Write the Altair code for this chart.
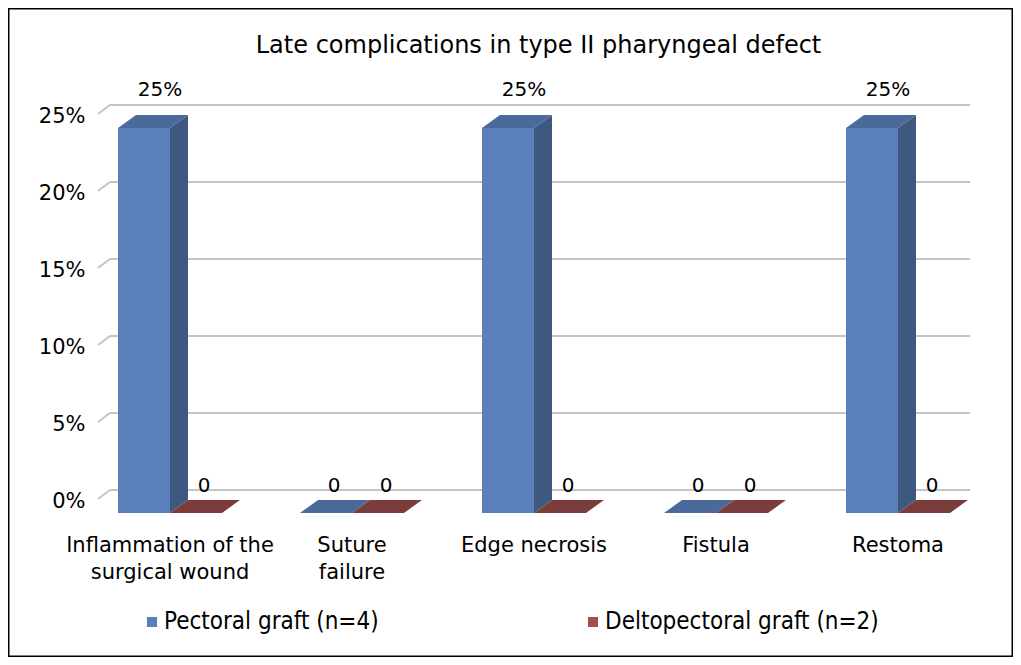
import altair as alt
import pandas as pd

# ---------------- data ----------------
categories = ["Inflammation of the\nsurgical wound", "Suture\nfailure", "Edge necrosis", "Fistula", "Restoma"]
series = ["Pectoral graft (n=4)", "Deltopectoral graft (n=2)"]
pectoral = [25, 0, 25, 0, 25]
deltopectoral = [0, 0, 0, 0, 0]
y_ticks = [0, 5, 10, 15, 20, 25]
title_text = "Late complications in type II pharyngeal defect"

# ---------------- style ----------------
front_colors = ["#5b7fbb", "#a04f4d"]
side_colors = ["#3f5880", "#6f3634"]
top_colors = ["#4b6a9c", "#7b3d3c"]
FONT = "DejaVu Sans"
LEGEND_FONT = "Liberation Sans Narrow, DejaVu Sans Condensed, DejaVu Sans"

W, H = 1005, 649          # whole canvas = plot area
SP = 182.0                # px per category step
PXY = 15.4                # px per percent point
X0 = 162.0                # px of first category center
Y0 = 505.0                # px of 0 % (front plane)
BW = 52.0 / SP            # bar width in category units
DX = 18.0 / SP            # depth shift (x) in category units
DY = 13.0 / PXY           # depth shift (y) in percent units
GRID_BACK = 23.0 / PXY    # back wall shift
GRID_SLANT = 9.0 / PXY
GRID_L0, GRID_L1, GRID_R = -0.396, -0.33, 4.396

xs = alt.Scale(domain=[-X0 / SP, (W - X0) / SP], range=[0, W], nice=False, zero=False)
ys = alt.Scale(domain=[-(H - Y0) / PXY, Y0 / PXY], range=[H, 0], nice=False, zero=False)

# ---------------- tables ----------------
rows, side_rows, top_rows = [], [], []
for s_i, (name, vals) in enumerate(zip(series, [pectoral, deltopectoral])):
    for c_i, v in enumerate(vals):
        left = c_i - BW if s_i == 0 else c_i
        right = left + BW
        bid = f"{s_i}-{c_i}"
        rows.append(dict(bar=bid, series=name, left=left, right=right, mid=(left + right) / 2,
                         base=0.0, value=v, label=("0" if v == 0 else f"{v}%")))
        side_rows += [dict(bar=bid, x=right, top=v, bot=0.0, fill=side_colors[s_i]),
                      dict(bar=bid, x=right + DX, top=v + DY, bot=DY, fill=side_colors[s_i])]
        top_rows += [dict(bar=bid, y=v, x=left, x2=right, fill=top_colors[s_i]),
                     dict(bar=bid, y=v + DY, x=left + DX, x2=right + DX, fill=top_colors[s_i])]
bars = pd.DataFrame(rows)
sides = pd.DataFrame(side_rows)
tops = pd.DataFrame(top_rows)

grid = pd.DataFrame({"v": y_ticks})
grid["yb"] = grid["v"] + GRID_BACK
grid["ys"] = grid["v"] + GRID_BACK - GRID_SLANT
grid["xl0"], grid["xl1"], grid["xr"] = GRID_L0, GRID_L1, GRID_R

cats = pd.DataFrame({"cat": categories, "i": list(range(len(categories))), "base": 0.0})

yaxis = alt.Axis(values=y_ticks, labelExpr="datum.value + '%'", grid=False, ticks=False, tickSize=0,
                 domain=False, offset=-77, labelPadding=0, labelOffset=-12, labelFontSize=21,
                 labelFont=FONT, labelColor="#000000", title=None, labelOverlap=False, zindex=2)


def Y(field):
    return alt.Y(field, scale=ys, axis=yaxis)


def X(field):
    return alt.X(field, scale=xs, axis=None)


# ---------------- layers ----------------
grid_h = alt.Chart(grid).mark_rule(color="#c4c4c4", strokeWidth=2).encode(
    x=X("xl1:Q"), x2="xr:Q", y=Y("yb:Q"), y2="yb:Q")
grid_s = alt.Chart(grid).mark_rule(color="#c4c4c4", strokeWidth=2).encode(
    x=X("xl0:Q"), x2="xl1:Q", y=Y("ys:Q"), y2="yb:Q")

front = alt.Chart(bars).mark_rect().encode(
    x=X("left:Q"), x2="right:Q",
    y=Y("base:Q"), y2="value:Q",
    color=alt.Color("series:N", scale=alt.Scale(domain=series, range=front_colors),
                    legend=alt.Legend(title=None, orient="none", legendX=132, legendY=602,
                                      direction="horizontal", symbolType="square", symbolSize=100,
                                      symbolStrokeWidth=0, labelFontSize=24, labelFont=LEGEND_FONT,
                                      labelColor="#000000", labelLimit=600, labelOffset=0,
                                      columnPadding=202)),
)

side = alt.Chart(sides).mark_area(orient="vertical").encode(
    x=X("x:Q"), y=Y("top:Q"), y2="bot:Q",
    detail="bar:N", fill=alt.Fill("fill:N", scale=None))

top = alt.Chart(tops).mark_area(orient="horizontal").encode(
    y=Y("y:Q"), x=X("x:Q"), x2="x2:Q",
    detail="bar:N", fill=alt.Fill("fill:N", scale=None))

lab_pos = alt.Chart(bars).transform_filter("datum.value > 0").mark_text(
    fontSize=20, font=FONT, color="#000000", dx=16, dy=-38).encode(
    x=X("mid:Q"), y=Y("value:Q"), text="label:N")
lab_zero = alt.Chart(bars).transform_filter("datum.value == 0").mark_text(
    fontSize=20, font=FONT, color="#000000", dx=8, dy=-27).encode(
    x=X("mid:Q"), y=Y("value:Q"), text="label:N")

cat_labels = alt.Chart(cats).mark_text(
    fontSize=21, font=FONT, color="#000000", baseline="top", dy=22, lineBreak="\n", lineHeight=27).encode(
    x=X("i:Q"), y=Y("base:Q"), text="cat:N")

chart = alt.layer(grid_h, grid_s, front, side, top, lab_pos, lab_zero, cat_labels).resolve_scale(
    fill="independent"
).properties(
    width=W, height=H, padding=0, autosize=alt.AutoSizeParams(type="none"),
    title=alt.TitleParams(title_text, anchor="middle", orient="top", frame="group", offset=0,
                          baseline="middle", dx=28, dy=62, fontSize=24, font=FONT,
                          fontWeight="normal", color="#000000"),
    background="#ffffff",
).configure_view(stroke="#000000", strokeWidth=3)

chart.save("out.html", embed_options={"renderer": "svg", "actions": False})
